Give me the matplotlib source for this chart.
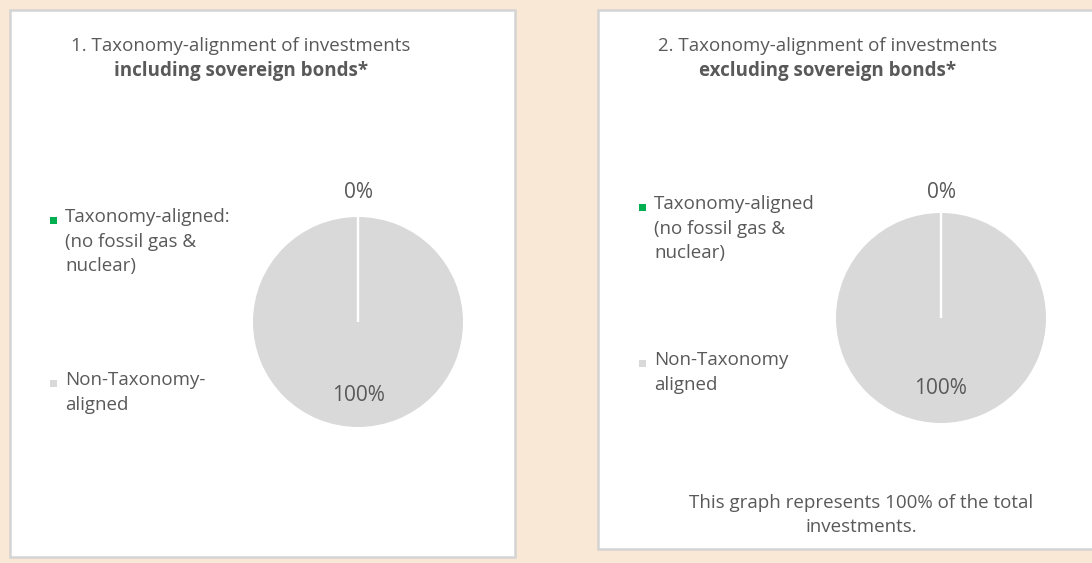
import matplotlib
matplotlib.use('Agg')
import matplotlib.pyplot as plt
from matplotlib.patches import Rectangle
import numpy as np

plt.rcParams['font.family'] = ['Open Sans', 'DejaVu Sans']

# -----------------------------
# Data
# -----------------------------
titles_top = ['1. Taxonomy-alignment of investments', '2. Taxonomy-alignment of investments']
titles_bold = ['including sovereign bonds*', 'excluding sovereign bonds*']
labels_incl = ['Taxonomy-aligned:\n(no fossil gas &\nnuclear)', 'Non-Taxonomy-\naligned']
labels_excl = ['Taxonomy-aligned\n(no fossil gas &\nnuclear)', 'Non-Taxonomy\naligned']
values_incl = [0, 100]
values_excl = [0, 100]
footnote = 'This graph represents 100% of the total\ninvestments.'

slice_colors = ['#00B050', '#D9D9D9']
text_color = '#595959'
bg_color = '#FAE8D7'
fs = 13.5

W, H = 1092, 563
fig = plt.figure(figsize=(W / 100, H / 100), dpi=100)
fig.patch.set_facecolor(bg_color)


def fx(x):
    return x / W


def fy(y):
    return 1 - y / H


# panels (pixel boxes: left, top, right, bottom)
panels = [(10, 10, 515, 557), (598, 10, 1100, 549)]
for (l, t, r, b) in panels:
    fig.patches.append(Rectangle((fx(l), fy(b)), fx(r) - fx(l), fy(t) - fy(b),
                                 transform=fig.transFigure, facecolor='white',
                                 edgecolor='#D4D4D4', linewidth=1.8, zorder=-2))

# per-panel layout
layouts = [
    dict(values=values_incl, labels=labels_incl, title_x=241, pie=(358, 322, 105),
         sq_x=50, text_x=65, leg_y=[220, 383], out_dist=1.23, in_dist=0.70),
    dict(values=values_excl, labels=labels_excl, title_x=828, pie=(941, 318, 105),
         sq_x=639, text_x=654, leg_y=[207, 363], out_dist=1.20, in_dist=0.67),
]

for i, lay in enumerate(layouts):
    fig.text(fx(lay['title_x']), fy(46), titles_top[i], ha='center', va='center',
             fontsize=fs, color=text_color)
    fig.text(fx(lay['title_x']), fy(71), titles_bold[i], ha='center', va='center',
             fontsize=fs, color=text_color, fontweight='bold')

    cx, cy, r = lay['pie']
    ax = fig.add_axes([fx(cx - r), fy(cy + r), 2 * r / W, 2 * r / H])
    vals = lay['values']
    ax.pie(vals, colors=slice_colors, startangle=90, counterclock=False,
           wedgeprops=dict(edgecolor='none'))
    ax.set_xlim(-1, 1)
    ax.set_ylim(-1, 1)
    ax.axis('off')

    # slice borders (white) and percentage labels at slice mid-angles
    total = float(sum(vals))
    start = 90.0
    for v in vals:
        sweep = 360.0 * v / total
        a0 = np.deg2rad(start)
        ax.plot([0, np.cos(a0)], [0, np.sin(a0)], color='white', lw=1.6,
                solid_capstyle='butt')
        mid = np.deg2rad(start - sweep / 2)
        dist = lay['out_dist'] if v / total < 0.05 else lay['in_dist']
        ax.text(dist * np.cos(mid), dist * np.sin(mid), f'{v / total:.0%}',
                ha='center', va='center', fontsize=15, color=text_color, clip_on=False)
        start -= sweep

    # legend
    for lab, col, y in zip(lay['labels'], slice_colors, lay['leg_y']):
        fig.patches.append(Rectangle((fx(lay['sq_x']), fy(y + 3.5)), 7 / W, 7 / H,
                                     transform=fig.transFigure, facecolor=col,
                                     edgecolor='none', zorder=1))
        fig.text(fx(lay['text_x']), fy(y - 12), lab, ha='left', va='top',
                 fontsize=fs, color=text_color, linespacing=1.48)

fig.text(fx(861), fy(515), footnote, ha='center', va='center', fontsize=fs,
         color=text_color, linespacing=1.48, multialignment='center')

fig.savefig('out.png', dpi=100, facecolor=bg_color)
